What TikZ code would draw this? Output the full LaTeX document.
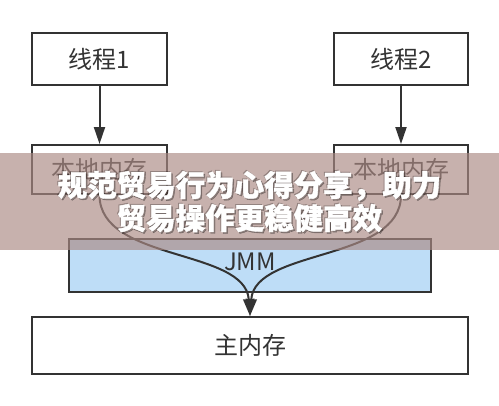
\documentclass[tikz,border=0pt]{standalone}
\usepackage{fontspec}
\newfontfamily\cjk{Noto Sans CJK SC}
\newfontfamily\cjkh[BoldFeatures={FakeBold=1.2}]{Noto Sans CJK SC}
\usetikzlibrary{arrows.meta,calc}
\definecolor{ink}{RGB}{51,51,51}
\definecolor{jmmblue}{RGB}{190,221,247}
\definecolor{banner}{RGB}{171,138,132}
\tikzset{
  box/.style={draw=ink, line width=2bp, fill=white, inner sep=0pt, anchor=north west},
  lbl/.style={text=ink, font=\cjk\fontsize{24bp}{28bp}\selectfont},
  conn/.style={draw=ink, line width=2bp, -{Triangle[length=17bp,width=11bp]}},
  btxt/.style={font=\cjkh\bfseries\fontsize{29.5bp}{33bp}\selectfont, align=center}
}
\begin{document}
\begin{tikzpicture}[x=1bp,y=-1bp]
\useasboundingbox (0,0) rectangle (499,405);
\fill[white] (0,0) rectangle (499,405);
% boxes
\node[box, minimum width=135bp, minimum height=52bp] (t1) at (31,32) {};
\node[box, minimum width=134bp, minimum height=52bp] (t2) at (333,32) {};
\node[box, minimum width=135bp, minimum height=49bp] (l1) at (31,144) {};
\node[box, minimum width=134bp, minimum height=49bp] (l2) at (333,144) {};
\node[box, fill=jmmblue, minimum width=362bp, minimum height=53bp] (jmm) at (68,238) {};
\node[box, minimum width=436bp, minimum height=57bp] (mm) at (31,316) {};
% labels
\node[lbl] at (t1.center) {线程1};
\node[lbl] at (t2.center) {线程2};
\node[lbl] at (l1.center) {本地内存};
\node[lbl] at (l2.center) {本地内存};
\node[lbl] at ([yshift=4bp]jmm.center) {JMM};
\node[lbl] at (mm.center) {主内存};
% connectors
\draw[conn] (t1.south) -- (l1.north);
\draw[conn] (t2.south) -- (l2.north);
\coordinate (tip) at (mm.north);
\draw[conn] (l1.south) .. controls ($(l1.south)+(0,67)$) and ($(tip)+(-5,-68)$) .. (tip);
\draw[conn] (l2.south) .. controls ($(l2.south)+(0,67)$) and ($(tip)+(5,-68)$) .. (tip);
% banner
\fill[banner, opacity=0.66] (0,153) rectangle (499,250);
\node[btxt, text=black, opacity=0.3] at (251,203) {规范贸易行为心得分享，助力\\贸易操作更稳健高效};
\node[btxt, text=black, opacity=0.2] at (248.5,200.5) {规范贸易行为心得分享，助力\\贸易操作更稳健高效};
\node[btxt, text=white] (bt) at (249.5,201.5) {规范贸易行为心得分享，助力\\贸易操作更稳健高效};
\end{tikzpicture}
\end{document}
